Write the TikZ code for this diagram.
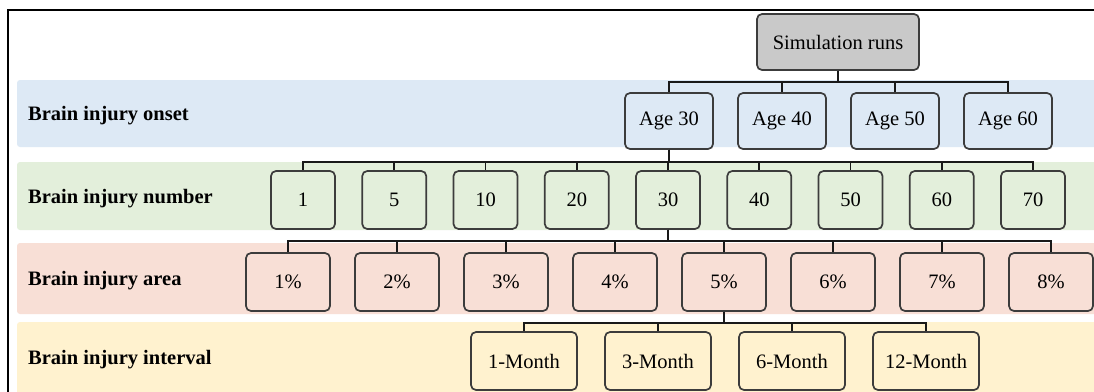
\documentclass[tikz,border=0pt]{standalone}
\usepackage{fontspec}
\setmainfont{Liberation Serif}
\definecolor{bandblue}{RGB}{221,233,245}
\definecolor{bandgreen}{RGB}{227,239,219}
\definecolor{bandred}{RGB}{248,223,214}
\definecolor{bandyellow}{RGB}{255,242,207}
\definecolor{simgray}{RGB}{201,201,201}
\definecolor{edge}{RGB}{60,60,60}
\begin{document}
\begin{tikzpicture}[x=1pt,y=-1pt,
  every node/.style={font=\fontsize{20.5}{24}\selectfont},
  box/.style={draw=edge,line width=1.7pt,rounded corners=5pt,inner sep=0pt,anchor=center},
  simbox/.style={box,fill=simgray,minimum width=162pt,minimum height=56pt},
  agebox/.style={box,fill=bandblue,minimum width=88pt,minimum height=56pt},
  numbox/.style={box,fill=bandgreen,minimum width=64pt,minimum height=58pt},
  areabox/.style={box,fill=bandred,minimum width=84pt,minimum height=58pt},
  intbox/.style={box,fill=bandyellow,minimum width=106pt,minimum height=58pt},
  rowlabel/.style={anchor=west,inner sep=0pt,font=\fontsize{20.5}{24}\selectfont\bfseries},
  link/.style={draw=black!90,line width=1.6pt}]
\useasboundingbox (0,0) rectangle (1094,391);
\fill[white] (0,0) rectangle (1094,391);
% bands
\fill[bandblue,rounded corners=3pt] (17,80) rectangle (1100,147);
\fill[bandgreen,rounded corners=3pt] (17,162) rectangle (1100,230);
\fill[bandred,rounded corners=3pt] (17,243) rectangle (1100,314);
\fill[bandyellow,rounded corners=3pt] (17,322) rectangle (1100,400);
% frame
\draw[line width=1.5pt] (8,400) -- (8,10) -- (1100,10);
% row labels
\node[rowlabel] (lonset) at (28,116) {Brain injury onset};
\node[rowlabel] (lnum) at (28,199) {Brain injury number};
\node[rowlabel] (larea) at (28,281) {Brain injury area};
\node[rowlabel] (lint) at (28,360) {Brain injury interval};
% nodes
\node[simbox] (sim) at (838,42) {Simulation runs};
\node[agebox] (a30) at (669,121) {Age 30};
\node[agebox] (a40) at (782,121) {Age 40};
\node[agebox] (a50) at (895,121) {Age 50};
\node[agebox] (a60) at (1008,121) {Age 60};
\foreach \v/\i in {1/0,5/1,10/2,20/3,30/4,40/5,50/6,60/7,70/8}
  \node[numbox] (n\v) at ({303+91.25*\i},200) {\v};
\foreach \v in {1,...,8}
  \node[areabox] (p\v) at ({288+109*(\v-1)},282) {\v\%};
\node[intbox] (m1) at (524,361) {1-Month};
\node[intbox] (m3) at (658,361) {3-Month};
\node[intbox] (m6) at (792,361) {6-Month};
\node[intbox] (m12) at (926,361) {12-Month};
% connectors
\foreach \c in {a30,a40,a50,a60}
  \draw[link] (sim.south) -- ++(0,11) -| (\c.north);
\foreach \c in {n1,n5,n10,n20,n30,n40,n50,n60,n70}
  \draw[link] (a30.south) -- ++(0,12) -| (\c.north);
\foreach \c in {p1,p2,p3,p4,p5,p6,p7,p8}
  \draw[link] (n30.south) -- ++(0,11) -| (\c.north);
\foreach \c in {m1,m3,m6,m12}
  \draw[link] (p5.south) -- ++(0,11) -| (\c.north);
\end{tikzpicture}
\end{document}
